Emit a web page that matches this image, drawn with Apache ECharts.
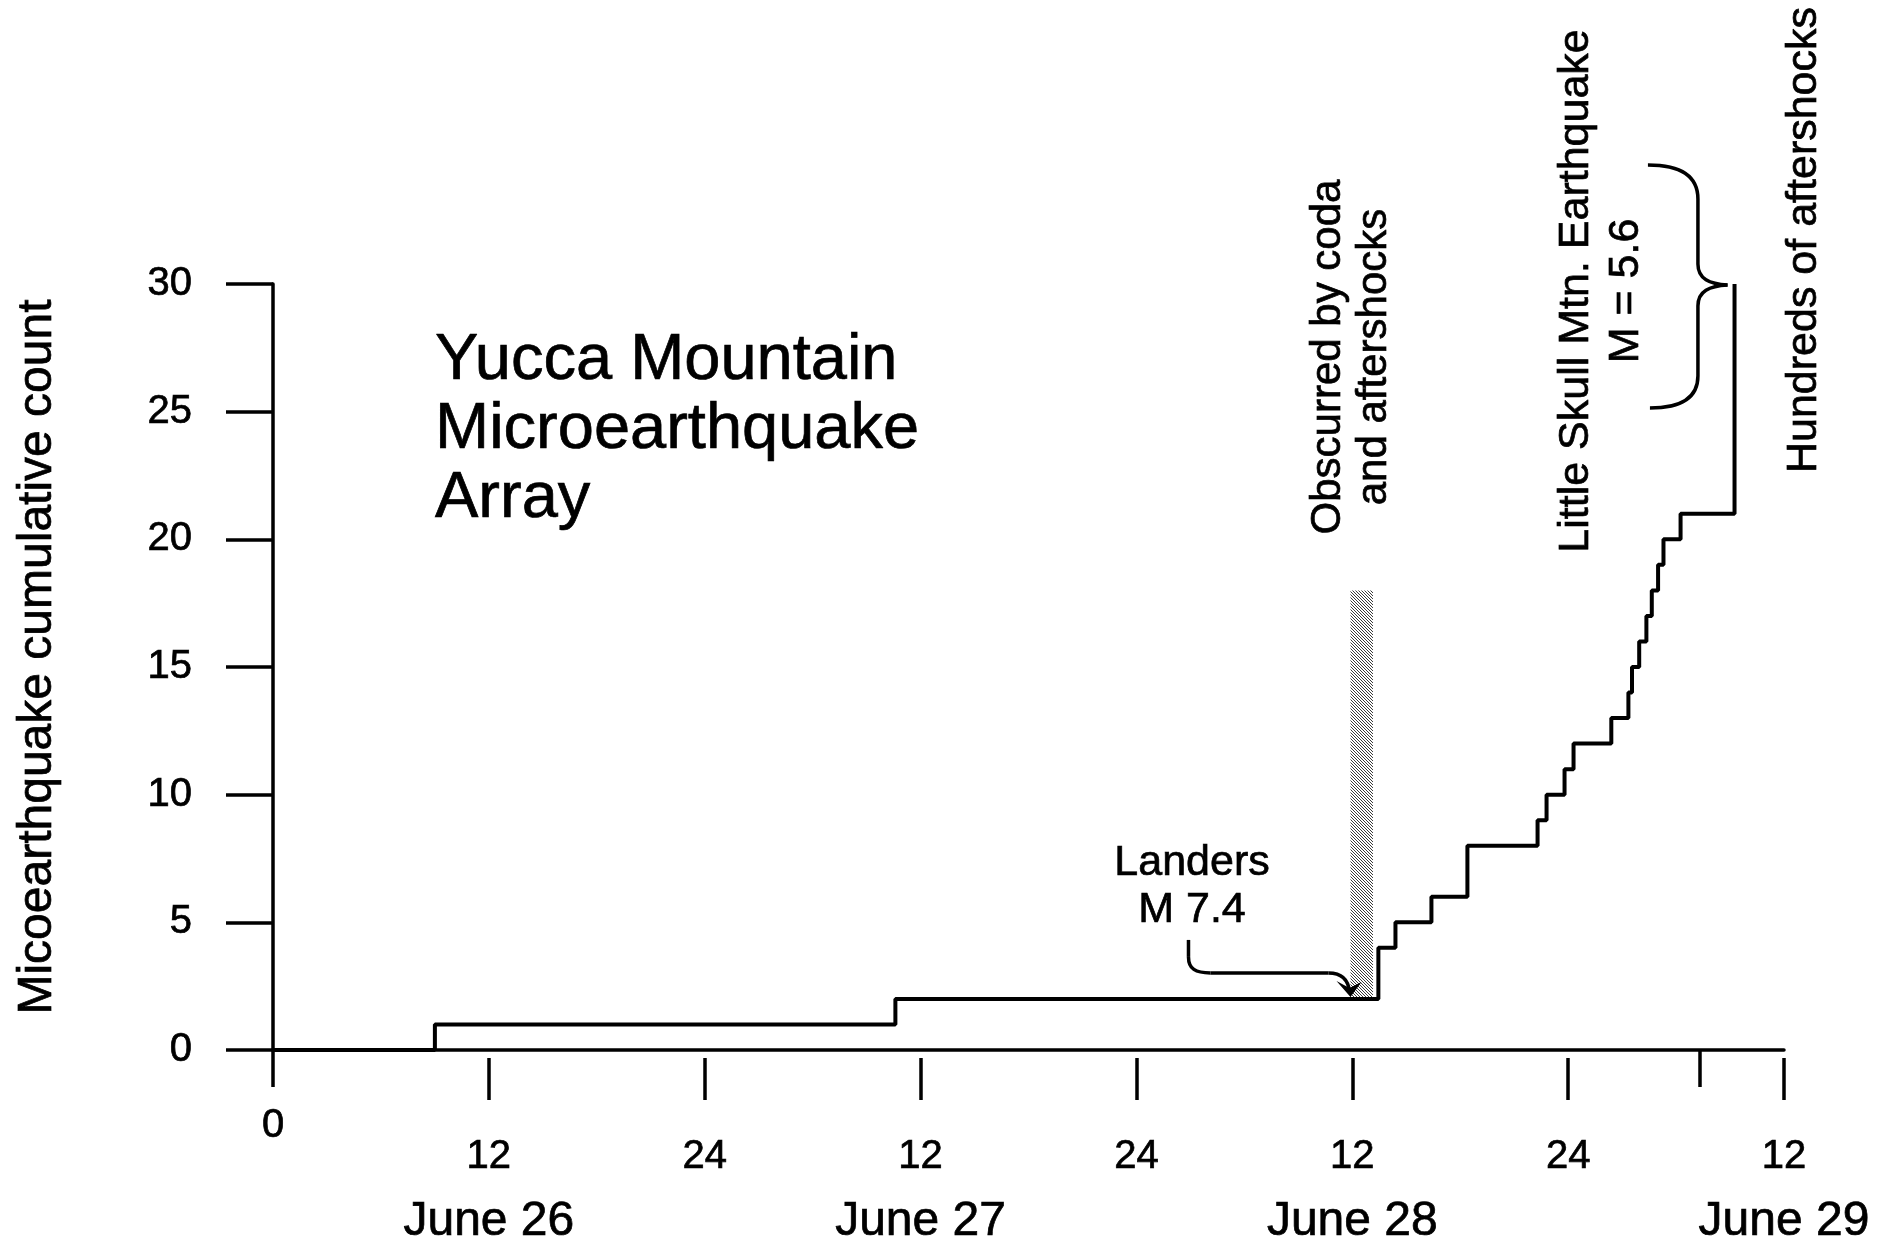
<!DOCTYPE html>
<html>
<head>
<meta charset="utf-8">
<script src="https://cdn.jsdelivr.net/npm/echarts@6.0.0/dist/echarts.min.js"></script>
<style>
  html, body { margin: 0; padding: 0; background: #fff; }
  #chart { width: 1891px; height: 1251px; }
</style>
</head>
<body>
<div id="chart"></div>
<script>
// Cumulative microearthquake count; time in hours from 00:00 June 26
const stepHours = [0, 9.0, 34.6, 61.45, 62.4, 64.4, 66.4, 70.3, 70.8, 71.8, 72.3, 74.4,
                   75.35, 75.55, 75.95, 76.35, 76.65, 77.0, 77.3, 78.25, 81.25];
const cumulativeCounts = [0, 1, 2, 4, 5, 6, 8, 9, 10, 11, 12, 13,
                          14, 15, 16, 17, 18, 19, 20, 21, 30];

// Hour axis: ticks every 12 h, labelled by hour of day, noon ticks carry the date
const hourTicks = [0, 12, 24, 36, 48, 60, 72, 84];
const hourTickLabels = ['0', '12', '24', '12', '24', '12', '24', '12'];
const noonHours = [12, 36, 60, 84];
const dayLabels = ['June 26', 'June 27', 'June 28', 'June 29'];
const extraTickHours = [79.3];

// Interval hidden by the Landers coda and aftershocks
const obscuredHours = [59.9, 61.15];
const obscuredCounts = [2, 18];

const FONT = 'Liberation Sans, Arial, Helvetica, sans-serif';
const black = '#000';
const axisW = 3.5;
const stepW = 4;
const inkW = 0.7; // slight outline so the lettering carries the weight of printed type

// diagonal hatch tile for the obscured interval
const tile = document.createElement('canvas');
tile.width = 6; tile.height = 6;
(function () {
  const c = tile.getContext('2d');
  c.fillStyle = '#fff';
  c.fillRect(0, 0, 6, 6);
  c.strokeStyle = '#222';
  c.lineWidth = 0.9;
  for (let k = -6; k <= 6; k += 3) {
    c.beginPath();
    c.moveTo(k - 1, -1);
    c.lineTo(k + 7, 7);
    c.stroke();
  }
})();

const chart = echarts.init(document.getElementById('chart'), null, { renderer: 'canvas' });

function seg(o, x1, y1, x2, y2) {
  return { type: 'line', shape: { x1: o[0] + x1, y1: o[1] + y1, x2: o[0] + x2, y2: o[1] + y2 },
           style: { stroke: black, lineWidth: axisW, fill: null } };
}
function curve(o, x1, y1, c1x, c1y, c2x, c2y, x2, y2) {
  return { type: 'bezierCurve',
           shape: { x1: o[0] + x1, y1: o[1] + y1, cpx1: o[0] + c1x, cpy1: o[1] + c1y,
                    cpx2: o[0] + c2x, cpy2: o[1] + c2y, x2: o[0] + x2, y2: o[1] + y2 },
           style: { stroke: black, lineWidth: axisW, fill: null } };
}

function renderNotes(params, api) {
  const topLeft = api.coord([obscuredHours[0], obscuredCounts[1]]);
  const botRight = api.coord([obscuredHours[1], obscuredCounts[0]]);
  const arrowTip = api.coord([obscuredHours[0], obscuredCounts[0]]);
  const last = stepHours.length - 1;
  const braceAt = api.coord([stepHours[last], cumulativeCounts[last]]);
  return {
    type: 'group',
    children: [
      { type: 'rect',
        shape: { x: topLeft[0], y: topLeft[1], width: botRight[0] - topLeft[0], height: botRight[1] - topLeft[1] },
        style: { fill: { image: tile, repeat: 'repeat' } } },
      // Landers arrow
      seg(arrowTip, -162, -59, -162, -42),
      curve(arrowTip, -162, -42, -162, -30, -155, -26, -140, -26),
      seg(arrowTip, -140, -26, -22, -26),
      curve(arrowTip, -22, -26, -8, -26, -2, -18, -1, -7),
      { type: 'polygon',
        shape: { points: [[arrowTip[0], arrowTip[1] - 2], [arrowTip[0] - 14, arrowTip[1] - 18],
                          [arrowTip[0] - 1, arrowTip[1] - 11], [arrowTip[0] + 11, arrowTip[1] - 17]] },
        style: { fill: black } },
      // brace for the Little Skull Mtn. earthquake
      curve(braceAt, -86.6, -119, -50, -119, -36.6, -105, -36.6, -85),
      seg(braceAt, -36.6, -85, -36.6, -20),
      curve(braceAt, -36.6, -20, -36.6, -5, -25, 0, -7, 1),
      curve(braceAt, -7, 1, -25, 2, -36.6, 7, -36.6, 22),
      seg(braceAt, -36.6, 22, -36.6, 92),
      curve(braceAt, -36.6, 92, -36.6, 112, -50, 124, -84.6, 124)
    ]
  };
}

function textStyle(text, size, lineHeight, align, vAlign) {
  return { text: text, x: 0, y: 0, font: size + 'px ' + FONT, fill: black,
           stroke: black, lineWidth: inkW,
           align: align, verticalAlign: vAlign, textAlign: align, textVerticalAlign: vAlign,
           lineHeight: lineHeight };
}
function vText(text, x, y, size, lineHeight) {
  return { type: 'text', x: x, y: y, rotation: Math.PI / 2, silent: true,
           style: textStyle(text, size, lineHeight, 'center', 'middle') };
}

const labelInk = { textBorderColor: black, textBorderWidth: inkW };

const option = {
  animation: false,
  backgroundColor: '#fff',
  grid: { left: 273, right: 107, top: 284, bottom: 201, containLabel: false },
  xAxis: [
    {
      type: 'value', min: 0, max: 84, interval: 12, position: 'bottom',
      axisLine: { show: true, lineStyle: { color: black, width: axisW } },
      axisTick: { show: true, customValues: [0].concat(extraTickHours), length: 37,
                  lineStyle: { color: black, width: axisW } },
      axisLabel: Object.assign({ customValues: [0], formatter: v => (v === 0 ? hourTickLabels[0] : ''),
                   margin: 56, fontSize: 40, fontFamily: FONT, color: black }, labelInk),
      splitLine: { show: false }
    },
    {
      type: 'value', min: 0, max: 84, interval: 12, position: 'bottom', offset: 8,
      axisLine: { show: false },
      axisTick: { show: true, customValues: hourTicks.slice(1), length: 42,
                  lineStyle: { color: black, width: axisW } },
      axisLabel: {
        customValues: hourTicks.slice(1),
        margin: 77, color: black, fontFamily: FONT,
        formatter: function (v) {
          const i = hourTicks.indexOf(v);
          if (i <= 0) return '';
          const d = noonHours.indexOf(v);
          return d >= 0 ? '{h|' + hourTickLabels[i] + '}\n{d|' + dayLabels[d] + '}'
                        : '{h|' + hourTickLabels[i] + '}';
        },
        rich: {
          h: Object.assign({ fontSize: 40, lineHeight: 44, fontFamily: FONT, color: black }, labelInk),
          d: Object.assign({ fontSize: 48, lineHeight: 86, fontFamily: FONT, color: black }, labelInk)
        }
      },
      splitLine: { show: false }
    }
  ],
  yAxis: {
    type: 'value', min: 0, max: 30, interval: 5,
    axisLine: { show: true, lineStyle: { color: black, width: axisW } },
    axisTick: { show: true, length: 47, lineStyle: { color: black, width: axisW } },
    axisLabel: Object.assign({ fontSize: 40, fontFamily: FONT, color: black, margin: 81 }, labelInk),
    splitLine: { show: false }
  },
  series: [
    {
      type: 'line', step: 'end', symbol: 'none', z: 5,
      data: stepHours.map((h, i) => [h, cumulativeCounts[i]]),
      lineStyle: { color: black, width: stepW }
    },
    {
      type: 'custom', clip: false, silent: true, z: 4,
      data: [[obscuredHours[0], obscuredCounts[0]]],
      renderItem: renderNotes
    }
  ],
  graphic: [
    { type: 'text', x: 435, y: 327, silent: true,
      style: textStyle('Yucca Mountain\nMicroearthquake\nArray', 65, 69, 'left', 'top') },
    { type: 'text', x: 1192, y: 887, silent: true,
      style: textStyle('Landers\nM 7.4', 43, 47, 'center', 'middle') },
    vText('Micoearthquake cumulative count', 38, 657, 48, 50),
    vText('Obscurred by coda\nand aftershocks', 1351, 357, 42, 46),
    vText('Little Skull Mtn. Earthquake\nM = 5.6', 1601, 291, 43, 50),
    vText('Hundreds of aftershocks', 1804, 240, 43, 46)
  ]
};

chart.setOption(option);
</script>
</body>
</html>
